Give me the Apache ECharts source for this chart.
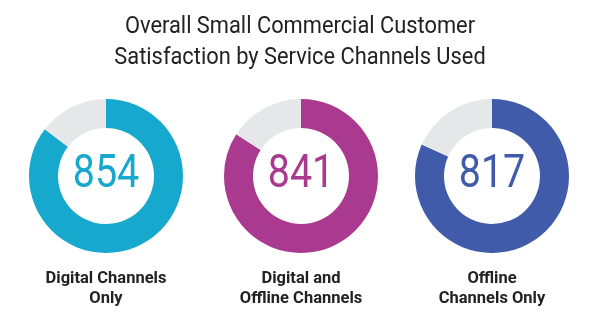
<!DOCTYPE html>
<html><head><meta charset="utf-8">
<script src="https://cdn.jsdelivr.net/npm/echarts@6/dist/echarts.min.js"></script>
<style>html,body{margin:0;padding:0;background:#fff}#c{width:600px;height:324px}</style>
</head><body><div id="c"></div>
<script>
const titleLines = ["Overall Small Commercial Customer", "Satisfaction by Service Channels Used"];
const channels = ["Digital Channels\nOnly", "Digital and\nOffline Channels", "Offline\nChannels Only"];
const scores = [854, 841, 817];
const scaleMax = 1000;
const colors = ["#17A8CD", "#A93A90", "#3F5BAA"];
const restColor = "#E6E7E8";

const centersX = [106, 301, 492];
const centerY = 176;

const chart = echarts.init(document.getElementById('c'), null, {renderer: 'canvas'});
const series = scores.map((v, i) => ({
  type: 'pie',
  center: [centersX[i], centerY],
  radius: [48, 77],
  startAngle: 90,
  clockwise: true,
  silent: true,
  label: {show: false},
  labelLine: {show: false},
  emphasis: {disabled: true},
  data: [
    {value: v, itemStyle: {color: colors[i]}},
    {value: scaleMax - v, itemStyle: {color: restColor}}
  ]
}));
const graphics = [];
titleLines.forEach((t, i) => {
  graphics.push({type: 'text', x: 300, y: 27 + i * 31, scaleX: 0.91,
    style: {text: t, font: '400 24px Roboto', fill: '#222', textAlign: 'center', textVerticalAlign: 'middle'}});
});
scores.forEach((v, i) => {
  graphics.push({type: 'text', x: centersX[i], y: centerY - 1, scaleX: 0.84,
    style: {text: String(v), font: '400 47px Roboto', fill: colors[i], textAlign: 'center', textVerticalAlign: 'middle'}});
  graphics.push({type: 'text', x: centersX[i], y: 269,
    style: {text: channels[i], font: '700 16.5px Roboto', fill: '#222', textAlign: 'center', textVerticalAlign: 'top', lineHeight: 20}});
});
chart.setOption({animation: false, series: series, graphic: graphics});
</script></body></html>
